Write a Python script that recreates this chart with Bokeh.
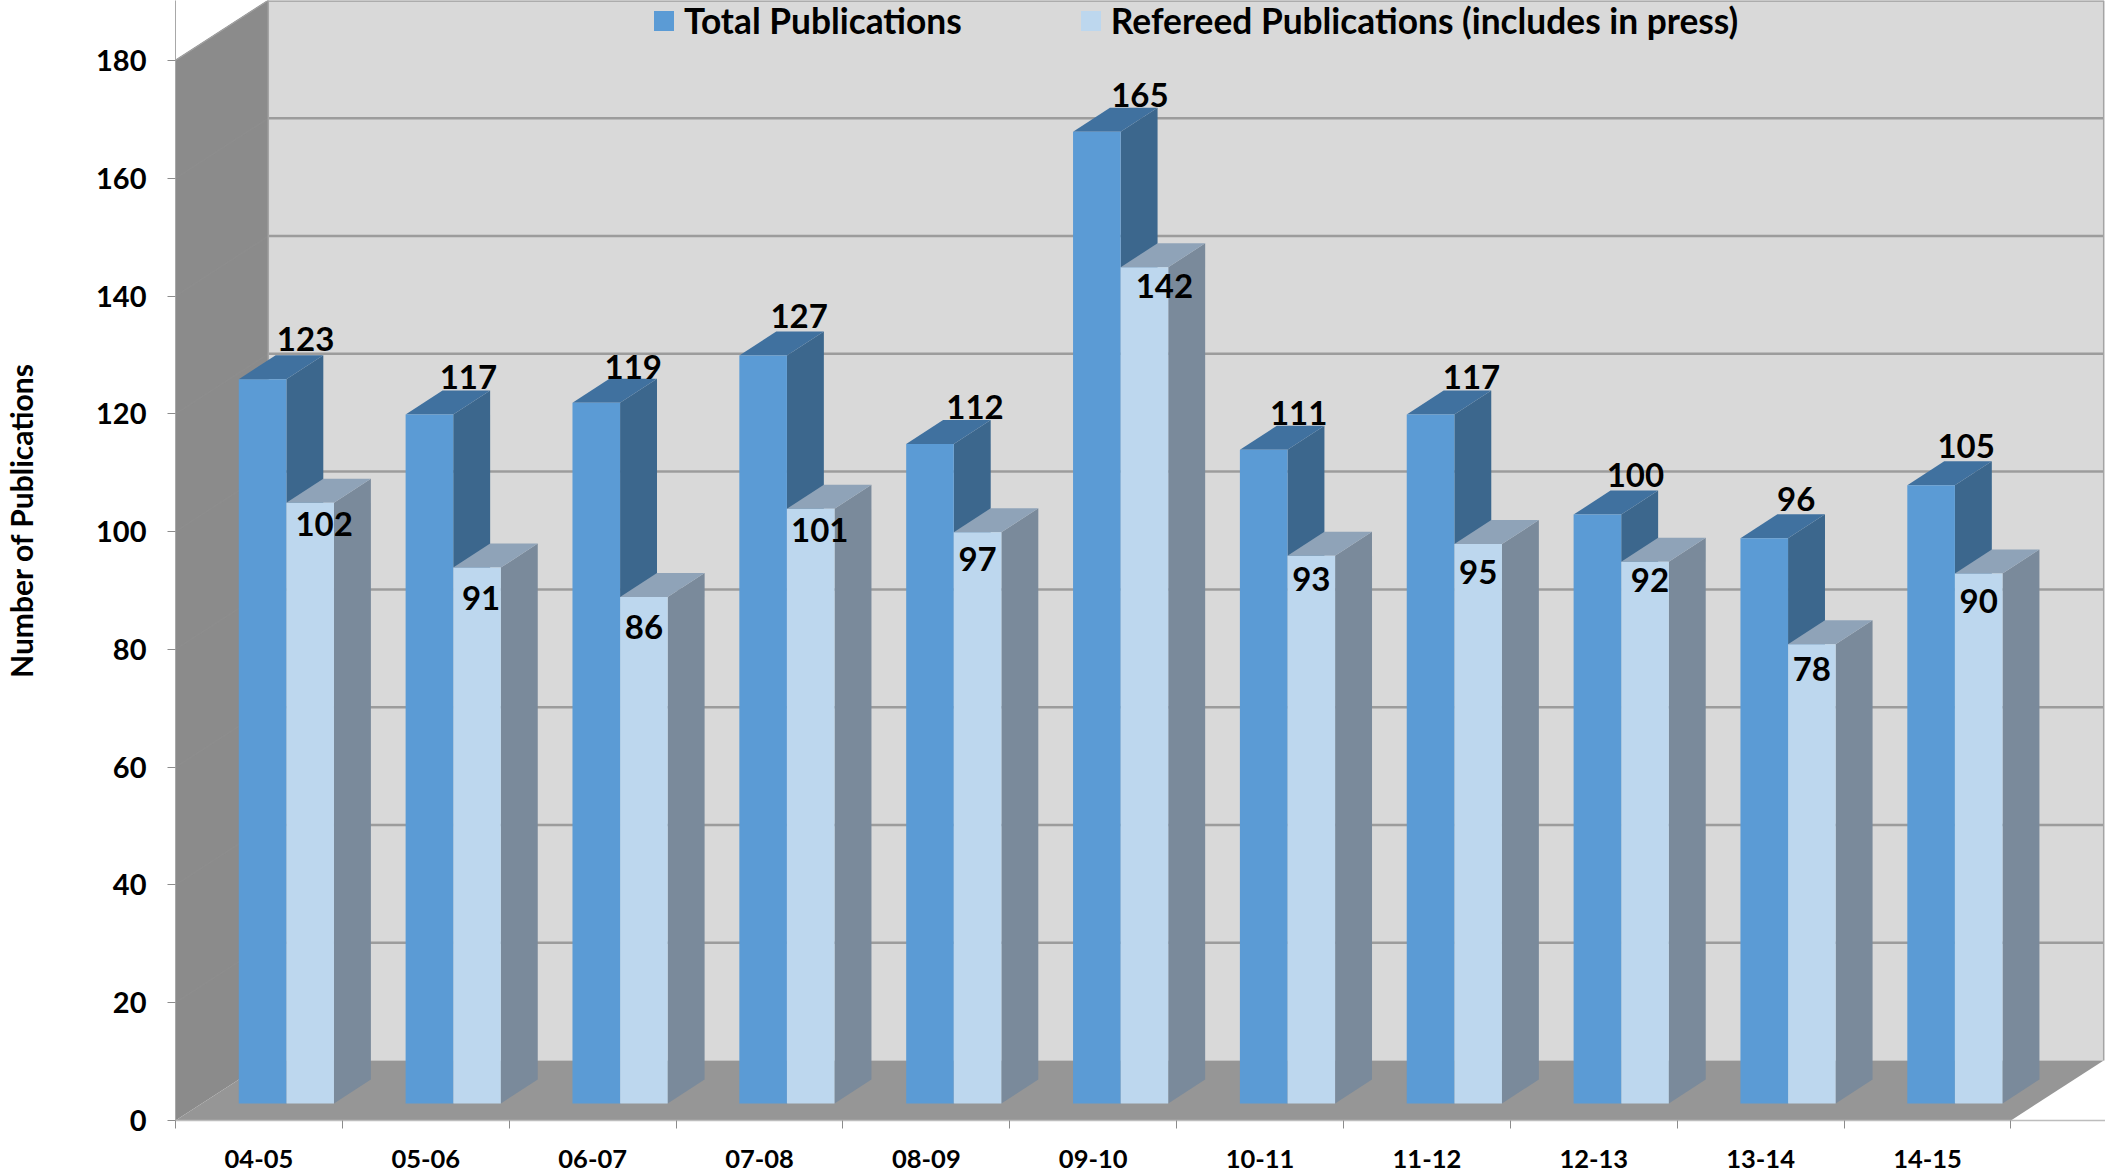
from bokeh.plotting import figure
from bokeh.models import ColumnDataSource, FixedTicker, Legend, LegendItem, LinearAxis
from bokeh.core.properties import value
from bokeh.embed import file_html
from bokeh.resources import INLINE

categories = ["04-05", "05-06", "06-07", "07-08", "08-09", "09-10", "10-11", "11-12", "12-13", "13-14", "14-15"]
total_pubs = [123, 117, 119, 127, 112, 165, 111, 117, 100, 96, 105]
refereed_pubs = [102, 91, 86, 101, 97, 142, 93, 95, 92, 78, 90]
y_ticks = [0, 20, 40, 60, 80, 100, 120, 140, 160, 180]
series_names = ["Total Publications", "Refereed Publications (includes in press)"]
y_title = "Number of Publications"

# label nudges in px, as placed in the reference
total_nudge_x = [43, 39, 37, 36, 45, 43, 35, 41, 38, 32, 35]
total_nudge_y = [-40, -37, -36, -40, -37, -37, -37, -37, -40, -39, -39]
refereed_nudge_x = [14, 4, 0, 9, 0, 20, 0, 0, 5, 0, 0]
refereed_nudge_y = [21, 30, 30, 21, 27, 19, 23, 28, 18, 25, 28]

# scale: px per data unit
PX_X = 167.2
PX_Y = 5.889
W, H = 2105, 1174
LEFT, TOP, BOTTOM = 171, 0, 54
frame_w, frame_h = W - LEFT, H - TOP - BOTTOM

WALL_DX, WALL_DY = 93 / PX_X, 60 / PX_Y
BAR_DX, BAR_DY = 37 / PX_X, 24 / PX_Y
BASE_DX, BASE_DY = 27.5 / PX_X, 17 / PX_Y
BAR_W = 47.7 / PX_X

FONT = "Lato"
n = len(categories)
ymax = y_ticks[-1]

p = figure(width=W, height=H, output_backend="svg", toolbar_location=None,
           x_range=(0, frame_w / PX_X), y_range=(0, frame_h / PX_Y),
           x_axis_type=None, y_axis_type=None,
           min_border_left=LEFT, min_border_top=TOP, min_border_bottom=BOTTOM, min_border_right=0,
           outline_line_color=None, background_fill_color="white", border_fill_color="white")
p.grid.visible = False

# walls and floor
p.patch([0, WALL_DX, WALL_DX, 0], [0, WALL_DY, ymax + WALL_DY, ymax], fill_color="#8b8b8b", line_color=None)
p.quad(left=[WALL_DX], right=[n + WALL_DX], bottom=[WALL_DY], top=[ymax + WALL_DY],
       fill_color="#d9d9d9", line_color=None)
p.patch([0, WALL_DX, n + WALL_DX, n], [0, WALL_DY, WALL_DY, 0], fill_color="#969696", line_color=None)

grid_vals = y_ticks[1:]
p.segment(x0=[WALL_DX] * len(grid_vals), x1=[n + WALL_DX] * len(grid_vals),
          y0=[v + WALL_DY for v in grid_vals], y1=[v + WALL_DY for v in grid_vals],
          line_color="#9c9c9c", line_width=2.5)
p.segment(x0=[0] * len(grid_vals), x1=[WALL_DX] * len(grid_vals),
          y0=grid_vals, y1=[v + WALL_DY for v in grid_vals],
          line_color="#8d8d8d", line_width=1.5)
p.line([WALL_DX, WALL_DX], [WALL_DY, ymax + WALL_DY], line_color="#a4a4a4", line_width=1.5)
p.line([n + WALL_DX, n + WALL_DX], [WALL_DY, ymax + WALL_DY], line_color="#a4a4a4", line_width=1.5)
p.line([0, WALL_DX], [ymax, ymax + WALL_DY], line_color="#a4a4a4", line_width=1)


def draw_bars(values, x_lefts, front, side, top):
    rights = [x + BAR_W for x in x_lefts]
    p.patches([[r, r + BAR_DX, r + BAR_DX, r] for r in rights],
              [[BASE_DY, BASE_DY + BAR_DY, BASE_DY + v + BAR_DY, BASE_DY + v] for v in values],
              fill_color=side, line_color=None)
    p.patches([[l, l + BAR_DX, r + BAR_DX, r] for l, r in zip(x_lefts, rights)],
              [[BASE_DY + v, BASE_DY + v + BAR_DY, BASE_DY + v + BAR_DY, BASE_DY + v] for v in values],
              fill_color=top, line_color=None)
    return p.quad(left=x_lefts, right=rights, bottom=[BASE_DY] * n, top=[BASE_DY + v for v in values],
                  fill_color=front, line_color=None)


centers = [i + 0.5 + BASE_DX for i in range(n)]
r_total = draw_bars(total_pubs, [c - BAR_W for c in centers], "#5b9bd5", "#3c678d", "#40719f")
r_ref = draw_bars(refereed_pubs, centers, "#bdd7ee", "#7a8a9b", "#8fa3b8")

# value labels
src_t = ColumnDataSource(dict(x=[c - BAR_W / 2 for c in centers], y=[BASE_DY + v for v in total_pubs],
                              t=[str(v) for v in total_pubs], dx=total_nudge_x, dy=total_nudge_y))
src_r = ColumnDataSource(dict(x=[c + BAR_W / 2 for c in centers], y=[BASE_DY + v for v in refereed_pubs],
                              t=[str(v) for v in refereed_pubs], dx=refereed_nudge_x, dy=refereed_nudge_y))
for s in (src_t, src_r):
    p.text(x="x", y="y", text="t", x_offset="dx", y_offset="dy", source=s, text_color="black",
           text_font=value(FONT), text_font_style="bold", text_font_size="33px",
           text_align="center", text_baseline="middle")

# axes
yax = LinearAxis(ticker=FixedTicker(ticks=y_ticks))
yax.axis_line_color = "#a8a8a8"
yax.major_tick_line_color = "#8c8c8c"
yax.major_tick_in = 0
yax.major_tick_out = 8
yax.minor_tick_line_color = None
yax.major_label_text_font = FONT
yax.major_label_text_font_style = "bold"
yax.major_label_text_font_size = "29px"
yax.major_label_text_color = "black"
yax.major_label_standoff = 21
# leading no-break spaces lift the centred title to where the reference has it
yax.axis_label = "\u00a0" * 11 + y_title
yax.axis_label_standoff = 54
yax.axis_label_text_font = FONT
yax.axis_label_text_font_style = "bold"
yax.axis_label_text_font_size = "30px"
yax.axis_label_text_color = "black"
p.add_layout(yax, "left")

xax = LinearAxis(ticker=FixedTicker(ticks=[i + 0.5 for i in range(n)], minor_ticks=list(range(n + 1))))
xax.major_label_overrides = {i + 0.5: c for i, c in enumerate(categories)}
xax.axis_line_color = "#bdbdbd"
xax.axis_line_width = 1.5
xax.major_tick_line_color = None
xax.minor_tick_line_color = "#8c8c8c"
xax.minor_tick_in = 0
xax.minor_tick_out = 8
xax.major_label_text_font = FONT
xax.major_label_text_font_style = "bold"
xax.major_label_text_font_size = "25.5px"
xax.major_label_text_color = "black"
xax.major_label_standoff = 21
p.add_layout(xax, "below")

legend = Legend(items=[LegendItem(label=series_names[0], renderers=[r_total]),
                       LegendItem(label=series_names[1], renderers=[r_ref])],
                orientation="horizontal", location=(476, 1078), background_fill_alpha=0,
                border_line_color=None, padding=0, margin=0, spacing=116,
                glyph_width=25, glyph_height=25, label_standoff=8,
                label_text_font=FONT, label_text_font_style="bold", label_text_font_size="35.3px",
                label_text_color="black")
p.add_layout(legend, "center")

open("out.html", "w").write(file_html(p, INLINE))
